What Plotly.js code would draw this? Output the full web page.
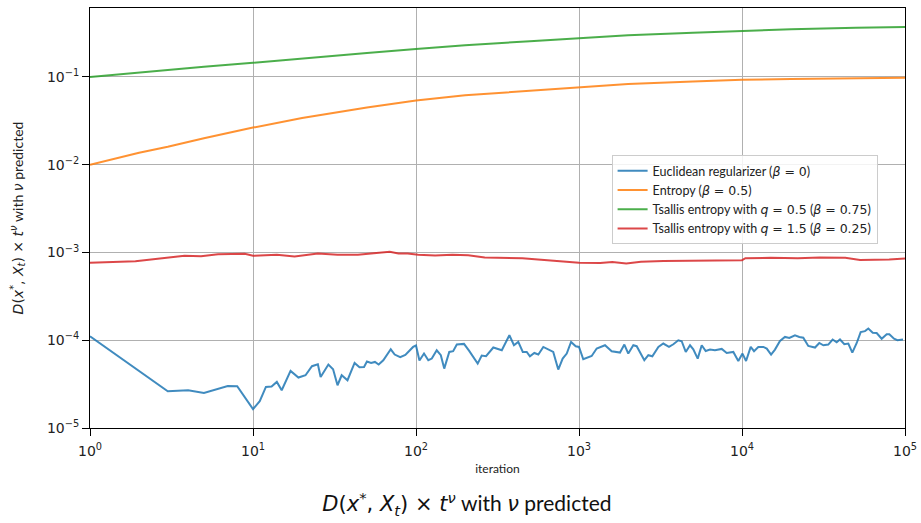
<!DOCTYPE html>
<html>
<head>
<meta charset="utf-8">
<script src="https://cdn.plot.ly/plotly-3.0.1.min.js"></script>
<style>html,body{margin:0;padding:0;background:#fff;}#chart{width:921px;height:523px;}</style>
</head>
<body>
<div id="chart"></div>
<script>
// ---- data ----
const M = s => '<span style="font-family:DejaVu Sans">' + s + '</span>';
const seriesNames = [
  "Euclidean regularizer (" + M("<i>β</i> = 0") + ")",
  "Entropy (" + M("<i>β</i> = 0.5") + ")",
  "Tsallis entropy with " + M("<i>q</i> = 0.5") + " (" + M("<i>β</i> = 0.75") + ")",
  "Tsallis entropy with " + M("<i>q</i> = 1.5") + " (" + M("<i>β</i> = 0.25") + ")"
];

const blueX = [1,3,4,5,7,8,10,11,12,13,14,15,17,19,21,23,25,26,29,31,33,35,38,39,42,45,48,50,53,56,59,63,67,70,74,80,86,91,96,100,105,112,119,125,134,142,149,160,169,178,197,212,239,253,269,298,336,374,399,424,452,478,500,532,563,604,695,746,794,841,894,955,1000,1062,1196,1284,1444,1587,1785,1898,2006,2154,2259,2516,2663,2818,3069,3289,3565,3791,4067,4266,4518,4800,5027,5348,5662,5988,6363,6826,7511,8056,8847,9491,10070,10590,11310,11850,12590,13520,14190,15080,15930,17100,18350,19510,21140,22470,23770,25510,28050,29800,31550,33830,35980,38080,39920,42430,44900,47510,50570,53460,56830,59570,63390,67010,71940,77220,80150,85640,89760,97200];
const blueY = [1.11e-4,2.62e-5,2.69e-5,2.51e-5,3.01e-5,2.99e-5,1.64e-5,2.02e-5,2.94e-5,2.97e-5,3.35e-5,2.69e-5,4.47e-5,3.76e-5,3.99e-5,5.06e-5,5.33e-5,3.82e-5,5.29e-5,4.67e-5,3.07e-5,3.99e-5,3.50e-5,3.89e-5,5.51e-5,4.92e-5,4.96e-5,5.72e-5,5.51e-5,5.66e-5,5.29e-5,5.92e-5,7.16e-5,7.89e-5,6.87e-5,6.40e-5,6.80e-5,7.55e-5,8.39e-5,8.71e-5,5.87e-5,7.05e-5,5.92e-5,6.18e-5,7.69e-5,6.75e-5,4.75e-5,7.36e-5,7.50e-5,8.93e-5,9.08e-5,7.55e-5,5.42e-5,6.70e-5,6.57e-5,8.26e-5,7.69e-5,1.14e-4,8.77e-5,9.57e-5,7.36e-5,7.36e-5,6.57e-5,7.16e-5,6.87e-5,8.39e-5,7.36e-5,4.63e-5,6.18e-5,7.05e-5,9.57e-5,8.55e-5,8.39e-5,6.07e-5,6.62e-5,8.04e-5,8.77e-5,7.50e-5,7.24e-5,8.93e-5,7.05e-5,8.77e-5,8.55e-5,5.92e-5,6.75e-5,6.57e-5,8.39e-5,9.17e-5,8.39e-5,9.00e-5,1.0e-4,9.75e-5,7.36e-5,8.77e-5,7.89e-5,6.18e-5,8.77e-5,7.55e-5,7.83e-5,7.69e-5,7.96e-5,7.16e-5,7.36e-5,5.81e-5,7.05e-5,5.81e-5,8.39e-5,7.50e-5,8.39e-5,8.39e-5,8.04e-5,6.87e-5,7.83e-5,9.82e-5,1.09e-4,1.06e-4,1.14e-4,1.09e-4,1.07e-4,8.61e-5,8.26e-5,9.31e-5,8.77e-5,8.93e-5,1.02e-4,9.49e-5,1.02e-4,9.00e-5,9.17e-5,7.24e-5,9.31e-5,1.24e-4,1.27e-4,1.36e-4,1.22e-4,1.21e-4,1.04e-4,1.17e-4,1.17e-4,1.04e-4,1.0e-4,1.02e-4];

const smoothX = [1,2,3,5,10,20,50,100,200,500,1000,2000,5000,10000,20000,50000,100000];
const orangeY = [0.0100,0.0137,0.0160,0.0200,0.0265,0.0340,0.0450,0.054,0.062,0.070,0.077,0.083,0.089,0.093,0.095,0.097,0.098];
const greenY  = [0.100,0.113,0.121,0.131,0.145,0.163,0.188,0.208,0.230,0.256,0.278,0.298,0.320,0.335,0.350,0.364,0.371];

const redX = [1,1.9,3.8,4.8,6.1,8.9,10,14,18,25,33,44,53,69,78,89,103,131,167,209,264,351,450,560,750,1000,1350,1600,1950,2400,3300,5000,7000,10000,10500,15000,22000,30000,43000,53000,65000,80000,100000];
const redY = [7.63e-4,7.97e-4,9.16e-4,9.08e-4,9.57e-4,9.65e-4,9.16e-4,9.41e-4,9.0e-4,9.74e-4,9.41e-4,9.41e-4,9.74e-4,1.018e-3,9.74e-4,9.74e-4,9.41e-4,9.24e-4,9.41e-4,9.32e-4,8.77e-4,8.77e-4,8.6e-4,8.3e-4,8.03e-4,7.63e-4,7.6e-4,7.8e-4,7.49e-4,7.83e-4,8.0e-4,8.1e-4,8.17e-4,8.17e-4,8.6e-4,8.69e-4,8.6e-4,8.75e-4,8.69e-4,8.2e-4,8.25e-4,8.3e-4,8.54e-4];

const xTickVals = [1,10,100,1000,10000,100000];
const xTickText = ["10<sup>0</sup>","10<sup>1</sup>","10<sup>2</sup>","10<sup>3</sup>","10<sup>4</sup>","10<sup>5</sup>"];
const yTickVals = [1e-5,1e-4,1e-3,1e-2,1e-1];
const yTickText = ["10<sup>−5</sup>","10<sup>−4</sup>","10<sup>−3</sup>","10<sup>−2</sup>","10<sup>−1</sup>"];

const colors = ["#1f77b4","#ff7f0e","#2ca02c","#d62728"];

const mk = (x, y, name, c) => ({
  x: x, y: y, name: name, type: "scatter", mode: "lines",
  line: {color: c, width: 2}, opacity: 0.85
});

const traces = [
  mk(blueX, blueY, seriesNames[0], colors[0]),
  mk(smoothX, orangeY, seriesNames[1], colors[1]),
  mk(smoothX, greenY, seriesNames[2], colors[2]),
  mk(redX, redY, seriesNames[3], colors[3])
];

const axisCommon = {
  type: "log", showgrid: true, gridcolor: "#b0b0b0", gridwidth: 1,
  showline: true, linecolor: "#000", linewidth: 1, mirror: true,
  ticks: "outside", ticklen: 7, tickcolor: "#000", zeroline: false,
  tickfont: {family: "DejaVu Sans", size: 14, color: "#222"}
};

const mathLabel = M("<i>D</i>(<i>x</i><sup>*</sup>, <i>X<sub>t</sub></i>) × <i>t<sup>ν</sup></i>") + " with " + M("<i>ν</i>") + " predicted";

const layout = {
  width: 921, height: 523,
  margin: {l: 90, r: 16, t: 8, b: 95},
  paper_bgcolor: "#fff", plot_bgcolor: "#fff",
  showlegend: true,
  hovermode: false,
  font: {family: "Lato", color: "#222"},
  title: {
    text: mathLabel,
    font: {family: "Lato", size: 21, color: "#111"},
    x: 0.507, xref: "container", xanchor: "center",
    y: 0.022, yref: "container", yanchor: "bottom"
  },
  xaxis: Object.assign({}, axisCommon, {
    range: [0, 5], tickvals: xTickVals, ticktext: xTickText,
    ticklabelstandoff: 3,
    title: {text: "iteration", font: {family: "Lato", size: 12, color: "#222"}, standoff: 6}
  }),
  yaxis: Object.assign({}, axisCommon, {
    range: [-5, -0.214], tickvals: yTickVals, ticktext: yTickText,
    title: {text: mathLabel, font: {family: "Lato", size: 14, color: "#222"}, standoff: 20}
  }),
  legend: {
    x: 0.640, y: 0.65, xanchor: "left", yanchor: "top",
    bgcolor: "rgba(255,255,255,0.85)", bordercolor: "#cccccc", borderwidth: 1,
    font: {family: "Lato", size: 12.5, color: "#222"},
    tracegroupgap: 0
  }
};

Plotly.newPlot("chart", traces, layout, {displayModeBar: false, staticPlot: true});
</script>
</body>
</html>
